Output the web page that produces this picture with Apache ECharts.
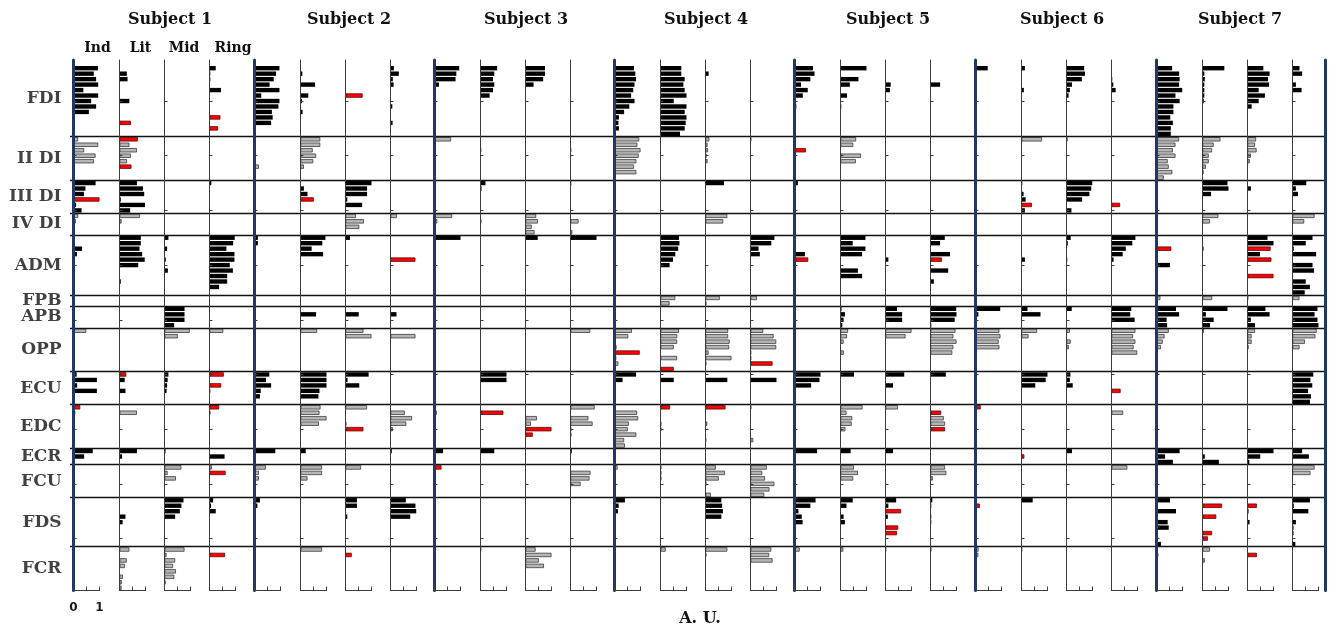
<!DOCTYPE html>
<html><head><meta charset="utf-8">
<script src="https://cdn.jsdelivr.net/npm/echarts@6/dist/echarts.min.js"></script>
<style>html,body{margin:0;padding:0;background:#fff}#c{width:1330px;height:629px}</style>
</head><body><div id="c"></div>
<script>
// ---------- categories ----------
const muscles = ['FDI','II DI','III DI','IV DI','ADM','FPB','APB','OPP','ECU','EDC','ECR','FCU','FDS','FCR'];
const muscleSlots = [14,8,6,4,11,2,4,8,6,8,3,6,9,8];   // bar rows per muscle band
const fingers = ['Ind','Lit','Mid','Ring'];
const subjectNames = ['Subject 1','Subject 2','Subject 3','Subject 4','Subject 5','Subject 6','Subject 7'];
const xTickLabels = ['0','1'];
const axisTitle = 'A. U.';

// ---------- values: [bar row index, value (A.U.), 1 = highlighted red] ----------
const S1_Ind = [[1,.94],[2,.78],[3,.87],[4,.95],[5,.38],[6,.95],[7,.68],[8,.87],[9,.59],
 [14,.18],[15,.95],[16,.41],[17,.85],[18,.79],
 [22,.85],[23,.46],[24,.4],[25,1.0,1],[26,.1],[27,.31],
 [28,.18],[29,.09],[33,.05],[34,.33],[35,.13],[49,.49],
 [57,.12],[58,.9],[59,.14],[60,.9],[63,.26,1],[64,.07],[71,.74],[72,.41]];
const S1_Lit = [[2,.28],[3,.31],[7,.38],[11,.44,1],
 [14,.71,1],[15,.38],[16,.67],[17,.44],[18,.29],[19,.46,1],
 [22,.67],[23,.9],[24,.95],[25,.05],[26,.98],[27,.41],[28,.79],[29,.08],
 [32,.82],[33,.82],[34,.77],[35,.87],[36,.97],[37,.72],[40,.05],
 [57,.26,1],[58,.2],[60,.23],[64,.67],[71,.67],[72,.1],[83,.23],[84,.12],
 [89,.38],[91,.28],[92,.21],[94,.13],[95,.09],[96,.08]];
const S1_Mid = [[32,.15],[34,.1],[36,.05],[38,.13],[45,.77],[46,.77],[47,.77],[48,.37],
 [49,.97],[50,.51],[57,.15],[58,.12],[59,.1],[60,.08],[71,.04],
 [74,.65],[75,.12],[76,.44],[80,.73],[81,.65],[82,.59],[83,.41],
 [89,.77],[90,.08],[91,.41],[92,.33],[93,.44],[94,.38],[95,.04]];
const S1_Ring = [[1,.24],[2,.03],[3,.03],[5,.44],[10,.42,1],[12,.33,1],[22,.07],
 [32,.97],[33,.91],[34,.65],[35,.96],[36,.96],[37,.78],[38,.9],[39,.68],[40,.68],[41,.37],
 [49,.53],[57,.55,1],[59,.45,1],[60,.03],[63,.37,1],[64,.03],[72,.58],
 [74,.09],[75,.62,1],[80,.14],[81,.06],[82,.24],[90,.6,1]];

const S2_Ind = [[1,.96],[2,.83],[3,.74],[4,.58],[5,.96],[6,.26],[7,.96],[8,.92],[9,.67],[10,.7],[11,.64],
 [19,.17],[32,.13],[33,.13],[57,.57],[58,.44],[59,.64],[60,.24],[61,.21],[64,.04],[71,.8],
 [74,.44],[75,.17],[76,.17],[77,.05],[80,.21],[81,.11],[82,.05]];
const S2_Lit = [[2,.07],[4,.56],[6,.3],[7,.06],[9,.08],
 [14,.76],[15,.76],[16,.47],[17,.6],[18,.49],[19,.13],[23,.13],[24,.27],[25,.51,1],
 [32,.96],[33,.84],[34,.43],[35,.87],[46,.6],[49,.64],
 [57,1.0],[58,1.0],[59,1.0],[60,.73],[61,.69],[63,.77],[64,.73],[65,1.0],[66,.71],[71,.2],
 [74,.83],[75,.83],[76,.27],[89,.83]];
const S2_Mid = [[6,.66,1],[22,1.0],[23,.83],[24,.83],[25,.07],[26,.64],[28,.4],[29,.71],[30,.53],
 [32,.17],[46,.51],[49,.69],[50,1.0],[57,.89],[58,.08],[59,.53],[63,.83],[66,.03],[67,.69,1],
 [74,.6],[80,.44],[81,.44],[83,.07],[90,.24,1]];
const S2_Ring = [[1,.13],[2,.32],[3,.09],[4,.12],[8,.07],[11,.08],[28,.25],[36,.96,1],[46,.23],[50,.96],
 [64,.55],[65,.83],[66,.61],[67,.09],[71,.05],[80,.59],[81,.96],[82,.99],[83,.76]];

const S3_Ind = [[1,.95],[2,.84],[3,.81],[4,.17],[14,.64],[28,.68],[29,.11],[30,.05],[32,1.0],
 [64,.09],[71,.33],[72,.04],[74,.27,1]];
const S3_Lit = [[1,.64],[2,.53],[3,.48],[4,.53],[5,.48],[6,.35],[16,.02],[22,.19],[23,.04],[29,.03],
 [57,1.0],[58,1.0],[64,.88,1],[71,.53],[89,.02]];
const S3_Mid = [[1,.75],[2,.75],[3,.68],[4,.31],[28,.41],[29,.48],[30,.24],[31,.35],[32,.47],
 [65,.44],[66,.21],[67,1.0,1],[68,.28,1],[89,.39],[90,1.0],[91,.51],[92,.71]];
const S3_Ring = [[1,.02],[16,.02],[22,.03],[29,.31],[31,.07],[32,1.0],[49,.76],
 [63,.93],[65,.69],[66,.85],[67,.03],[68,.03],[71,.05],[75,.77],[76,.73],[77,.39]];

const S4_Ind = [[1,.75],[2,.8],[3,.83],[4,.77],[5,.72],[6,.64],[7,.77],[8,.57],[9,.37],[10,.17],[11,.15],[12,.17],
 [14,.95],[15,.88],[16,1.0],[17,.93],[18,.84],[19,.75],[20,.84],
 [49,.67],[50,.53],[52,.08],[53,.97,1],[54,.07],[55,.15],[57,.83],[58,.31],
 [64,.87],[65,.91],[66,.55],[67,.51],[68,.84],[69,.37],[70,.4],[74,.12],[75,.03],
 [80,.4],[81,.16],[82,.13],[89,.03],[90,.03]];
const S4_Lit = [[1,.8],[2,.8],[3,.93],[4,.88],[5,.93],[6,1.0],[7,.51],[8,1.0],[9,.93],[10,1.0],[11,.97],[12,.93],[13,.75],
 [32,.71],[33,.73],[34,.68],[35,.57],[36,.48],[37,.35],[43,.57],[44,.35],
 [49,.71],[50,.64],[51,.64],[52,.51],[54,.64],[56,.51,1],[58,.51],[63,.37,1],[66,.03],[67,.03],
 [74,.03],[75,.03],[76,.03],[89,.2]];
const S4_Mid = [[2,.12],[14,.15],[15,.08],[16,.1],[17,.04],[18,.08],[22,.71],[28,.84],[29,.68],[43,.55],[44,.03],
 [49,.87],[50,.87],[51,.93],[52,.91],[53,.12],[54,1.0],[55,.03],[58,.84],[63,.77,1],[66,.07],[69,.02],
 [74,.4],[75,.75],[76,.51],[77,.03],[79,.21],[80,.61],[81,.64],[82,.67],[83,.61],[89,.84],[90,.03]];
const S4_Ring = [[14,.03],[32,.92],[33,.8],[34,.31],[35,.36],[43,.25],
 [49,.49],[50,.89],[51,.99],[52,.99],[53,.02],[54,.02],[55,.85,1],[58,1.0],[63,.03],[69,.11],
 [74,.63],[75,.45],[76,.56],[77,.92],[78,.73],[79,.53],[89,.8],[90,.72],[91,.85]];

const S5_Ind = [[1,.71],[2,.77],[3,.61],[4,.25],[5,.51],[6,.32],[8,.07],[16,.44,1],[22,.13],[35,.4],[36,.53,1],
 [57,1.0],[58,.96],[59,.64],[71,.87],[74,.03],[76,.03],[80,.81],[81,.61],[82,.15],[83,.28],[84,.31],[89,.2]];
const S5_Lit = [[1,1.0],[3,.69],[4,.36],[6,.25],[8,.03],[14,.6],[15,.49],[17,.79],[18,.59],
 [32,.96],[33,.47],[34,.96],[35,.83],[38,.67],[39,.83],[45,.04],[46,.17],[47,.12],[48,.07],
 [49,.29],[50,.25],[51,.12],[53,.13],[57,.52],[63,.85],[64,.23],[65,.45],[66,.43],[67,.19],[71,.39],
 [74,.52],[75,.67],[76,.49],[80,.47],[81,.23],[83,.12],[84,.17],[89,.11]];
const S5_Mid = [[4,.2],[5,.17],[36,.11],[45,.44],[46,.64],[47,.64],[49,1.0],[50,.77],[57,.72],[59,.29],
 [63,.48],[71,.29],[80,.41],[81,.11],[82,.6,1],[83,.09],[85,.49,1],[86,.44,1],[89,.02]];
const S5_Ring = [[4,.37],[32,.55],[33,.37],[35,.75],[36,.44,1],[38,.68],[40,.13],[45,.99],[46,1.0],[47,.93],[48,.03],
 [49,.96],[50,.88],[51,1.0],[52,.88],[53,.84],[57,.59],[64,.41,1],[65,.51],[66,.56],[67,.56,1],
 [74,.56],[75,.61],[76,.09],[80,.07],[81,.03],[83,.03],[84,.03],[89,.03]];

const S6_Ind = [[1,.47],[22,.04],[23,.04],[45,.95],[46,.11],[49,.92],[50,.96],[51,.89],[52,.92],
 [63,.2,1],[71,.03],[75,.04],[81,.17,1],[89,.12],[90,.11]];
const S6_Lit = [[1,.13],[5,.09],[14,.79],[22,.03],[24,.08],[25,.16],[26,.4,1],[27,.13],[36,.13],[45,.23],[46,.73],
 [49,.6],[50,.27],[57,1.0],[58,.93],[59,.53],[72,.11,1],[80,.43],[89,.02]];
const S6_Mid = [[1,.68],[2,.71],[3,.59],[4,.21],[5,.13],[6,.08],[14,.04],[22,.99],[23,.95],[24,.88],[25,.6],[27,.19],
 [32,.16],[33,.05],[36,.03],[45,.2],[49,.13],[51,.16],[52,.09],[57,.15],[58,.13],[59,.24],[71,.21]];
const S6_Ring = [[3,.03],[4,.07],[5,.16],[26,.33,1],[32,.92],[33,.8],[34,.55],[35,.43],[36,.08],[45,.76],[46,.72],[47,.89],
 [49,.92],[50,.83],[51,.92],[52,.85],[53,.99],[60,.35,1],[64,.45],[74,.61],[82,.02]];

const S7_Ind = [[1,.6],[2,.87],[3,.89],[4,.87],[5,.99],[6,.73],[7,.89],[8,.65],[9,.65],[10,.53],[11,.63],[12,.55],[13,.55],
 [14,.87],[15,.73],[16,.63],[17,.73],[18,.43],[19,.47],[20,.61],[21,.28],[34,.57,1],[37,.52],[43,.15],
 [45,.75],[46,.87],[47,.39],[48,.41],[49,.47],[50,.31],[51,.24],[52,.17],[71,.89],[72,.33],[73,.63],
 [80,.52],[81,.05],[82,.75],[84,.43],[85,.47],[88,.17],[90,.07,1]];
const S7_Lit = [[1,.84],[2,.07],[3,.09],[4,.07],[5,.07],[6,.07],[7,.05],
 [14,.69],[15,.43],[16,.37],[17,.24],[18,.24],[19,.13],[20,.04],[22,.96],[23,1.0],[24,.33],[28,.61],[29,.29],
 [34,.04],[43,.37],[45,.96],[46,.13],[47,.43],[48,.29],[49,.05],[72,.09],[73,.63],
 [81,.75,1],[83,.53,1],[86,.37,1],[87,.21,1],[89,.29],[91,.09]];
const S7_Mid = [[1,.61],[2,.85],[3,.79],[4,.83],[5,.43],[6,.67],[7,.43],[8,.16],[14,.33],[15,.29],[16,.35],[17,.13],[18,.09],
 [23,.13],[32,.77],[33,1.0],[34,.89,1],[35,.48],[36,.92,1],[39,1.0,1],[43,.02],[45,.69],[46,.85],[47,.13],[48,.29],
 [49,.29],[50,.16],[51,.16],[52,.04],[71,1.0],[72,.49],[73,.07],[81,.36,1],[82,.04],[84,.08],[90,.36,1]];
const S7_Ring = [[1,.27],[2,.37],[4,.13],[5,.35],[22,.53],[23,.13],[24,.21],[28,.85],[29,.45],
 [32,.77],[33,.51],[34,.05],[35,.91],[37,.77],[38,.83],[40,.51],[41,.67],[42,.47],[43,.27],
 [45,.96],[46,.85],[47,.96],[48,1.0],[49,.93],[50,.88],[51,.48],[52,.27],
 [57,.8],[58,.69],[59,.76],[60,.6],[61,.71],[62,.67],[71,.37],[72,.63],[74,.85],[75,.69],
 [80,.67],[81,.05],[82,.61],[84,.13],[85,.04],[86,.04],[88,.11]];

const subjectData = [
 [S1_Ind,S1_Lit,S1_Mid,S1_Ring],[S2_Ind,S2_Lit,S2_Mid,S2_Ring],[S3_Ind,S3_Lit,S3_Mid,S3_Ring],
 [S4_Ind,S4_Lit,S4_Mid,S4_Ring],[S5_Ind,S5_Lit,S5_Mid,S5_Ring],[S6_Ind,S6_Lit,S6_Mid,S6_Ring],
 [S7_Ind,S7_Lit,S7_Mid,S7_Ring]];

// ---------- layout / style ----------
const subjLeft = [73, 254, 434, 614, 794, 975, 1156];
const fingerOff = [0, 46, 91, 136];
const titleX = [170, 349, 526, 706, 888, 1062, 1240];
const headerX = [97.5, 140.5, 184, 233];
const PT = 60, PH = 530.5, CW = 26;
const NAVY = '#1f3864', AX = '#3c3c3c';
const BLACK = '#000000', GRAY = '#b5b5b5', RED = '#ff0000';
const serif = '"DejaVu Serif", "Liberation Serif", serif';

const rowStart = []; let acc = 0;
muscleSlots.forEach(n => { rowStart.push(acc); acc += n; });
const totalSlots = acc;
const slotRow = [];
muscleSlots.forEach((n, r) => { for (let k = 0; k < n; k++) slotRow.push(r); });
const slotIds = slotRow.map((_, i) => String(i));

const grid = [], xAxis = [], yAxis = [], series = [];
subjectData.forEach((fingersData, s) => {
  fingersData.forEach((bars, f) => {
    const i = grid.length;
    grid.push({left: subjLeft[s] + fingerOff[f] + 0.5, top: PT, width: CW, height: PH});
    const showLab = (s === 0 && f === 0);
    xAxis.push({gridIndex: i, type: 'value', min: 0, max: 1, interval: 0.5, z: 5,
      axisLine: {show: true, onZero: false, lineStyle: {color: AX, width: 1}},
      axisTick: {show: true, inside: true, length: 4, lineStyle: {color: AX, width: 1}},
      splitLine: {show: false},
      axisLabel: {show: showLab, margin: 11, color: '#1a1a1a', fontFamily: '"DejaVu Sans", sans-serif',
        fontWeight: 'bold', fontSize: 12,
        formatter: v => (v === 0 ? xTickLabels[0] : (v === 1 ? xTickLabels[1] : ''))}});
    yAxis.push({gridIndex: i, type: 'category', inverse: true, data: slotIds, z: 5,
      axisLine: {show: true, onZero: false, lineStyle: f === 0 ? {color: NAVY, width: 3} : {color: AX, width: 1}},
      axisTick: {show: true, inside: true, length: 3, alignWithLabel: true,
        interval: idx => idx % 10 === 7, lineStyle: {color: AX, width: 1}},
      axisLabel: {show: false}, splitLine: {show: false}});
    const data = slotIds.map(() => '-');
    bars.forEach(b => {
      const row = slotRow[b[0]];
      const red = b[2] === 1;
      const color = red ? RED : (row % 2 === 0 ? BLACK : GRAY);
      data[b[0]] = {value: b[1], itemStyle: {color,
        borderColor: red ? '#5a0a0a' : (row % 2 === 0 ? BLACK : '#3c3c3c'),
        borderWidth: (red || row % 2 === 1) ? 0.8 : 0}};
    });
    series.push({type: 'bar', xAxisIndex: i, yAxisIndex: i, data, barWidth: '80%', clip: false,
      silent: true, animation: false, z: 2,
      markLine: f === 0 ? undefined : {silent: true, symbol: ['none', 'none'], animation: false,
        label: {show: false}, lineStyle: {color: AX, width: 1, type: 'solid', opacity: 1}, data: [{xAxis: 0}]}});
  });
});

// overlay grid for band separators, row labels and right frame line
const ov = grid.length;
grid.push({left: 70, top: PT, width: 1255, height: PH});
xAxis.push({gridIndex: ov, type: 'value', min: 0, max: 1, show: false});
yAxis.push({gridIndex: ov, type: 'value', min: 0, max: totalSlots, inverse: true, show: false});
yAxis.push({gridIndex: ov, type: 'value', min: 0, max: totalSlots, inverse: true, position: 'right', z: 5,
  axisLine: {show: true, onZero: false, lineStyle: {color: NAVY, width: 3}},
  axisTick: {show: false}, axisLabel: {show: false}, splitLine: {show: false}});
series.push({type: 'scatter', xAxisIndex: ov, yAxisIndex: ov, symbolSize: 1, silent: true, animation: false,
  itemStyle: {color: 'rgba(0,0,0,0)'},
  data: muscles.map((m, r) => ({name: m, value: [0, rowStart[r] + muscleSlots[r] / 2]})),
  label: {show: true, position: 'left', distance: 8, formatter: p => p.name,
    fontFamily: serif, fontWeight: 'bold', fontSize: 17, color: '#111'},
  markLine: {silent: true, symbol: ['none', 'none'], animation: false, label: {show: false},
    lineStyle: {color: '#111111', width: 1.4, type: 'solid', opacity: 1},
    data: rowStart.slice(1).map(v => ({yAxis: v}))}});

const graphic = [];
subjectNames.forEach((t, s) => graphic.push({type: 'text', x: titleX[s], y: 20,
  style: {text: t, font: 'bold 16px ' + serif, fill: '#111', textAlign: 'center', textVerticalAlign: 'middle'}}));
fingers.forEach((t, f) => graphic.push({type: 'text', x: headerX[f], y: 48,
  style: {text: t, font: 'bold 14px ' + serif, fill: '#111', textAlign: 'center', textVerticalAlign: 'middle'}}));
graphic.push({type: 'text', x: 700, y: 619,
  style: {text: axisTitle, font: 'bold 16px ' + serif, fill: '#111', textAlign: 'center', textVerticalAlign: 'middle'}});

const chart = echarts.init(document.getElementById('c'), null, {renderer: 'canvas'});
chart.setOption({animation: false, backgroundColor: '#fff', grid, xAxis, yAxis, series, graphic});
</script></body></html>
